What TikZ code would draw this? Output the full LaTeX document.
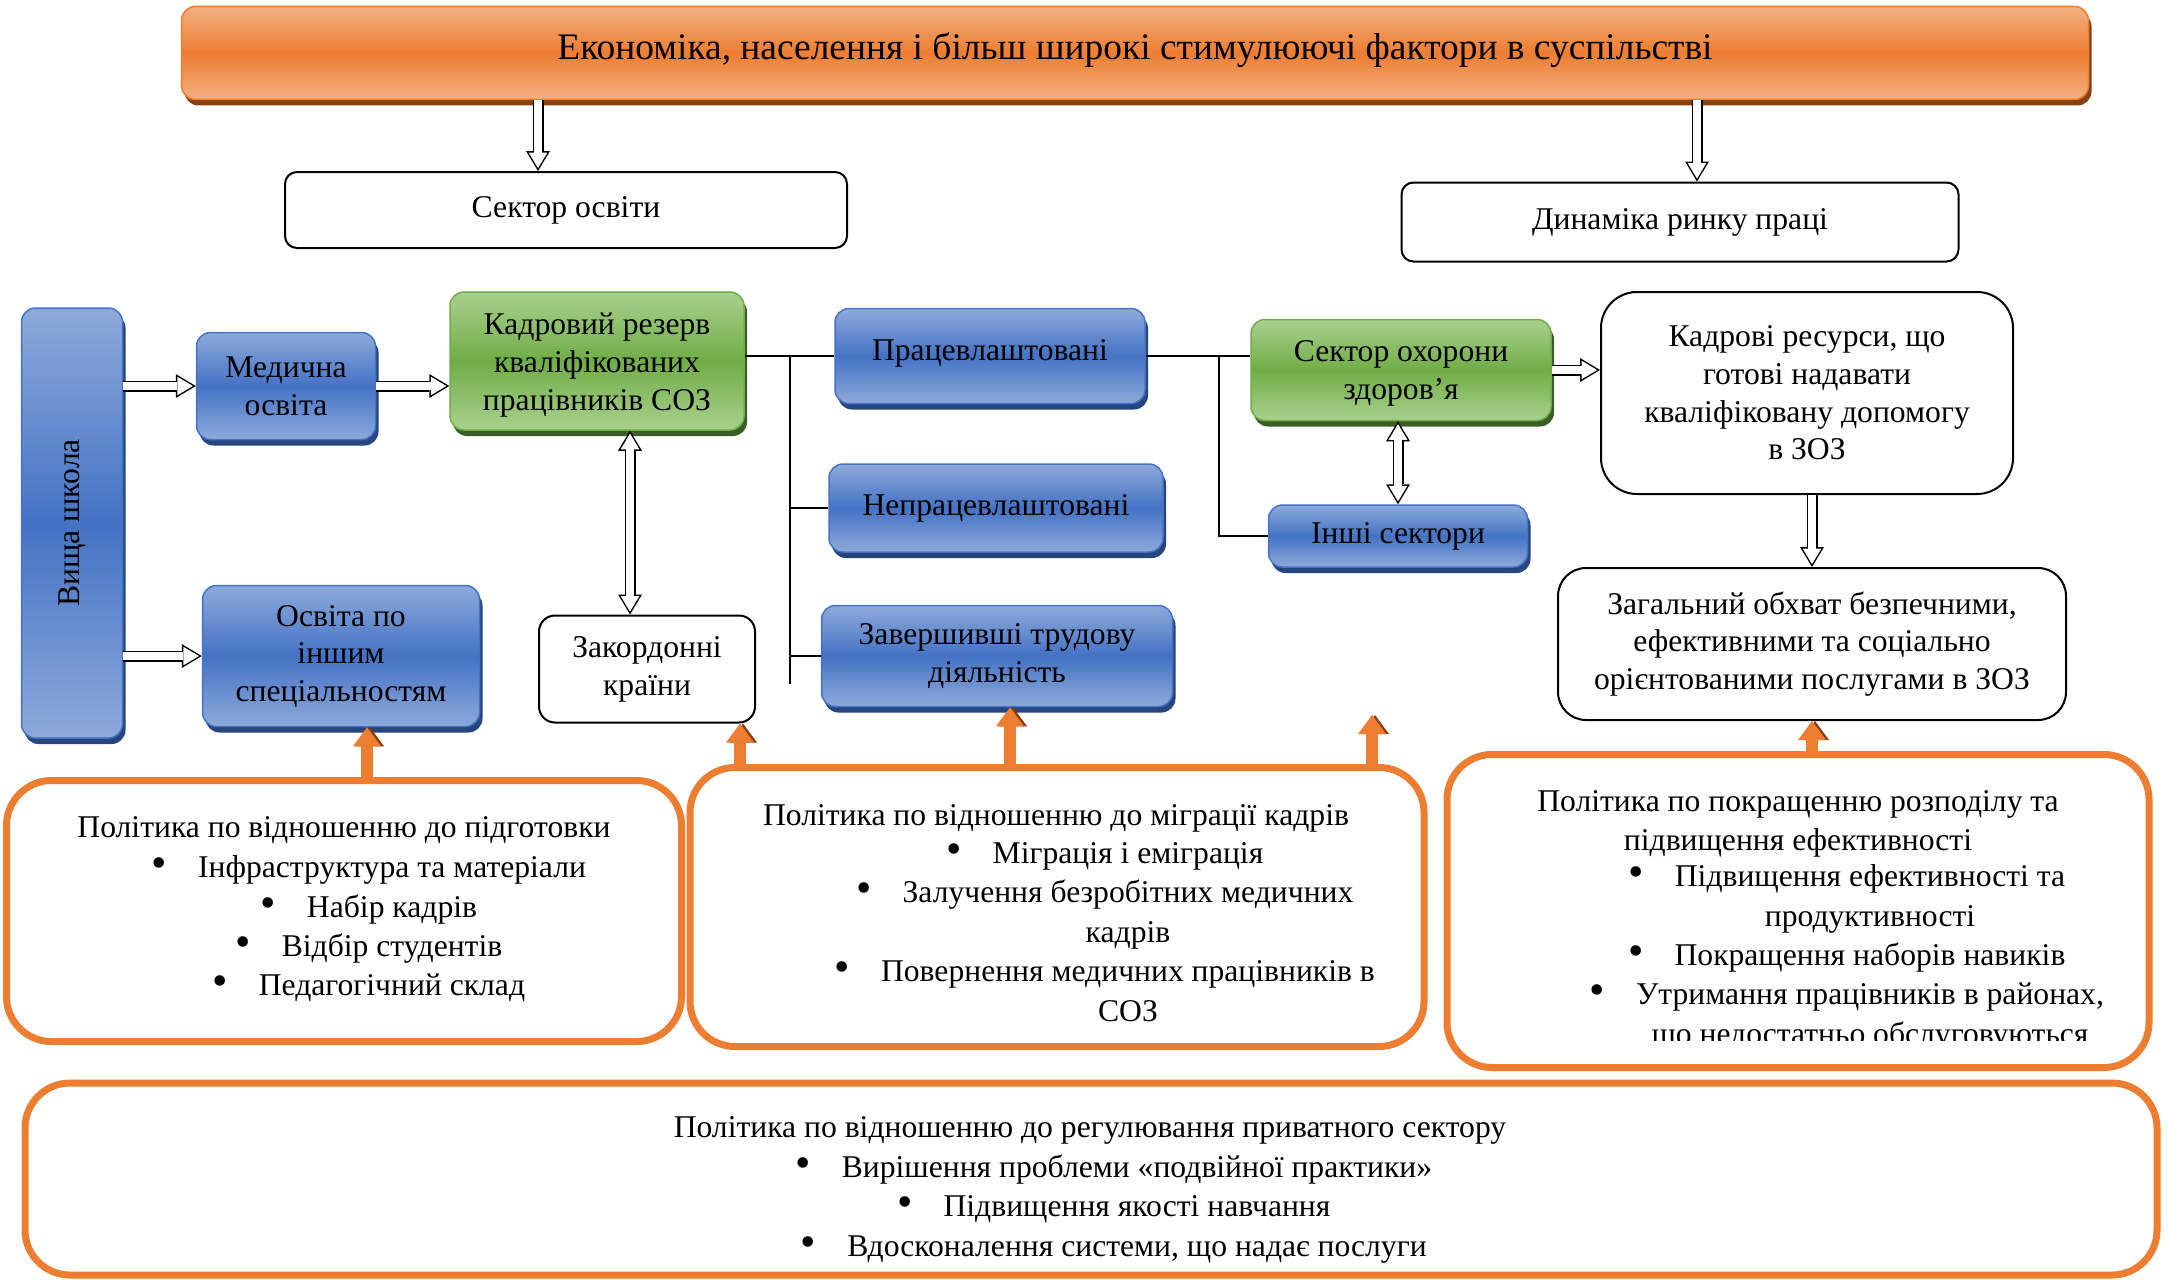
\documentclass[tikz,border=0pt]{standalone}
\usepackage{fontspec}
\setmainfont{Liberation Serif}
\usetikzlibrary{arrows.meta,shadows}
\newlength\px
\setlength\px{0.2mm}
\newcommand{\pitem}{\llap{{\fontsize{25}{0}\selectfont\textbullet}\hspace{6.2mm}}}
\definecolor{bluemain}{HTML}{4472C4}
\definecolor{bluelt}{HTML}{8EAADB}
\definecolor{bluedk}{HTML}{27457E}
\definecolor{greenmain}{HTML}{70AD47}
\definecolor{greenlt}{HTML}{A9D18E}
\definecolor{greendk}{HTML}{3B5E28}
\definecolor{orangemain}{HTML}{ED7D31}
\definecolor{orangelt}{HTML}{F4B183}
\definecolor{orangedk}{HTML}{8A3F0E}
\tikzset{
    bluebox/.style={draw=bluemain,line width=1.5\px,rounded corners=14\px,align=center,
        top color=bluelt,bottom color=bluelt,middle color=bluemain,
        drop shadow={shadow xshift=3\px,shadow yshift=-6\px,fill=bluedk,opacity=1}},
    greenbox/.style={draw=greenmain,line width=1.5\px,rounded corners=14\px,align=center,
        top color=greenlt,bottom color=greenlt,middle color=greenmain,
        drop shadow={shadow xshift=3\px,shadow yshift=-6\px,fill=greendk,opacity=1}},
    orangebar/.style={draw=orangemain,line width=1.5\px,rounded corners=14\px,
        top color=orangelt,bottom color=orangelt,middle color=orangemain,
        drop shadow={shadow xshift=3\px,shadow yshift=-6\px,fill=orangedk,opacity=1}},
    whitebox/.style={draw,line width=2\px,rounded corners=12\px,fill=white,align=center},
    policy/.style={draw=orangemain,line width=7\px,rounded corners=45\px,fill=white},
    link/.style={draw,line width=2\px},
    hollow/.style={draw=black,line width=2.2mm,-{Triangle[length=4mm,width=4.8mm,line width=0pt]},
        postaction={draw=white,line width=1.6mm,shorten >=0.58mm,
            -{Triangle[length=3.12mm,width=3.74mm,line width=0pt]}}},
    hollowboth/.style={draw=black,line width=2.2mm,
        {Triangle[length=4mm,width=4.8mm,line width=0pt]}-{Triangle[length=4mm,width=4.8mm,line width=0pt]},
        postaction={draw=white,line width=1.6mm,shorten >=0.58mm,shorten <=0.58mm,
            {Triangle[length=3.12mm,width=3.74mm,line width=0pt]}-{Triangle[length=3.12mm,width=3.74mm,line width=0pt]}}},
    uparrow/.style={draw=orangemain,line width=2.4mm,-{Triangle[length=3.8mm,width=5.6mm,line width=0pt]},
        preaction={draw=orangedk,transform canvas={xshift=0.6mm}}},
    policytext/.style={align=center,font=\fontsize{18}{22.4}\selectfont}
}
\begin{document}
\begin{tikzpicture}[x=0.2mm,y=-0.2mm,font=\fontsize{18}{21.5}\selectfont]
        \useasboundingbox (0,0) rectangle (2168,1279);
        %% Top level
        \node[orangebar,minimum width=1907\px,minimum height=93\px,font=\fontsize{21.3}{26}\selectfont] (econ) at (1135,53) {Економіка, населення і більш широкі стимулюючі фактори в суспільстві\rule[-14\px]{0pt}{0pt}};
        \node[whitebox,minimum width=562\px,minimum height=76\px] (edu) at (566,210) {Сектор освіти};
        \node[whitebox,minimum width=557\px,minimum height=79\px] (labour) at (1680,222) {Динаміка ринку праці};
        %% Education
        \node[bluebox,minimum width=101\px,minimum height=430\px] (high) at (72,523) {\rotatebox{90}{Вища школа}};
        \node[bluebox,minimum width=179\px,minimum height=107\px] (med) at (286,386) {Медична\\освіта};
        \node[bluebox,minimum width=277\px,minimum height=141\px] (other) at (341,656) {\rule{0pt}{22\px}Освіта по\\іншим\\спеціальностям};
        \node[greenbox,minimum width=294\px,minimum height=138\px] (pool) at (597,361) {\rule{0pt}{30\px}Кадровий резерв\\кваліфікованих\\працівників СОЗ};
        \node[whitebox,rounded corners=16\px,minimum width=216\px,minimum height=107\px] (abroad) at (647,669) {Закордонні\\країни};
        %% Labour market
        \node[bluebox,minimum width=310\px,minimum height=95\px] (empl) at (990,356) {Працевлаштовані\rule[-12\px]{0pt}{0pt}};
        \node[bluebox,minimum width=334\px,minimum height=88\px] (unempl) at (996,508) {Непрацевлаштовані};
        \node[bluebox,minimum width=351\px,minimum height=101\px] (retired) at (997,656) {Завершивші трудову\\діяльність};
        \node[greenbox,minimum width=300\px,minimum height=101\px] (health) at (1401,370) {\rule{0pt}{28\px}Сектор охорони\\здоров’я};
        \node[bluebox,minimum width=259\px,minimum height=62\px] (sectors) at (1398,536) {Інші сектори};
        \node[whitebox,rounded corners=36\px,minimum width=412\px,minimum height=202\px] (ready) at (1807,393) {Кадрові ресурси, що\\готові надавати\\кваліфіковану допомогу\\в ЗОЗ};
        \node[whitebox,rounded corners=28\px,minimum width=508\px,minimum height=152\px] (cover) at (1812,644) {Загальний обхват безпечними,\\ефективними та соціально\\орієнтованими послугами в ЗОЗ};
        %% Policies
        \node[policy,minimum width=675\px,minimum height=261\px] (trainpol) at (344,911) {};
        \node[policy,minimum width=734\px,minimum height=279\px] (migpol) at (1057,907) {};
        \node[policy,minimum width=702\px,minimum height=313\px] (distpol) at (1798,911) {};
        \node[policy,minimum width=2132\px,minimum height=192\px] (privpol) at (1091,1179) {};
        \node (traintitle) at (344,830) {Політика по відношенню до підготовки};
        \node[policytext] (trainlist) at (392,929) {\pitem Інфраструктура та матеріали\\\pitem Набір кадрів\\\pitem Відбір студентів\\\pitem Педагогічний склад};
        \node (migtitle) at (1056,818) {Політика по відношенню до міграції кадрів};
        \node[policytext] (miglist) at (1128,932) {\pitem Міграція і еміграція\\\pitem Залучення безробітних медичних\\кадрів\\\pitem Повернення медичних працівників в\\СОЗ};
        \node[policytext] (disttitle) at (1798,824) {Політика по покращенню розподілу та\\підвищення ефективності};
        \begin{scope}
            \clip (1447,755) rectangle (2149,1040);
            \node[policytext] (distlist) at (1870,958) {\pitem Підвищення ефективності та\\продуктивності\\\pitem Покращення наборів навиків\\\pitem Утримання працівників в районах,\\що недостатньо обслуговуються};
        \end{scope}
        \node (privtitle) at (1090,1130) {Політика по відношенню до регулювання приватного сектору};
        \node[policytext] (privlist) at (1137,1209) {\pitem Вирішення проблеми «подвійної практики»\\\pitem Підвищення якості навчання\\\pitem Вдосконалення системи, що надає послуги};
        %% Hollow arrows
        \coordinate (eduin) at ([xshift=-28\px]edu.north);
        \coordinate (labin) at ([xshift=17\px]labour.north);
        \coordinate (abrtop) at ([xshift=-17\px]abroad.north);
        \draw[hollow] (eduin |- econ.south) -- (eduin);
        \draw[hollow] (labin |- econ.south) -- (labin);
        \draw[hollow] (high.east |- med.west) -- (med.west);
        \draw[hollow] (med.east) -- (med.east -| pool.west);
        \draw[hollow] (high.east |- other.west) -- (other.west);
        \draw[hollowboth] (abrtop |- pool.south) -- (abrtop);
        \draw[hollowboth] (sectors.north |- health.south) -- (sectors.north);
        \draw[hollow] (health.east) -- (health.east -| ready.west);
        \draw[hollow] (cover.north |- ready.south) -- (cover.north);
        %% Links
        \coordinate (busa) at (790,356);
        \coordinate (busb) at (790,684);
        \coordinate (busc) at (1219,356);
        \draw[link] (pool.east |- empl.west) -- (empl.west);
        \draw[link] (busa) -- (busb);
        \draw[link] (busa |- unempl.west) -- (unempl.west);
        \draw[link] (busa |- retired.west) -- (retired.west);
        \draw[link] (empl.east) -- (empl.east -| health.west);
        \draw[link] (busc) |- (sectors.west);
        %% Policy arrows
        \coordinate (othin) at ([xshift=26\px]other.south);
        \coordinate (abrin) at ([xshift=93\px]abroad.south);
        \coordinate (retin) at ([xshift=13\px]retired.south);
        \coordinate (free) at (1372,715);
        \draw[uparrow] (othin |- trainpol.north) -- (othin);
        \draw[uparrow] (abrin |- migpol.north) -- (abrin);
        \draw[uparrow] (retin |- migpol.north) -- (retin);
        \draw[uparrow] (free |- migpol.north) -- (free);
        \draw[uparrow] (cover.south |- distpol.north) -- (cover.south);
\end{tikzpicture}
\end{document}
